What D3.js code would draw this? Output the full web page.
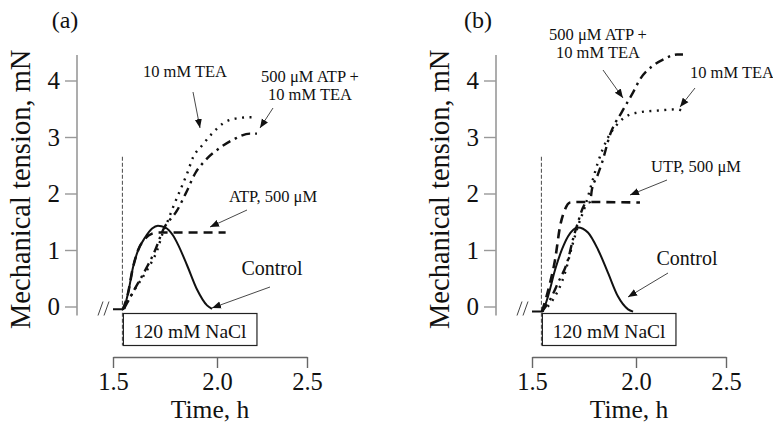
<!DOCTYPE html>
<html>
<head>
<meta charset="utf-8">
<script src="https://cdn.jsdelivr.net/npm/d3@7"></script>
<style>
  body { margin: 0; background: #fff; }
  svg text { font-family: "Liberation Serif", "Tinos", "Times New Roman", "Nimbus Roman", "DejaVu Serif", serif; fill: #111; }
</style>
</head>
<body>
<div id="chart"></div>
<script>
// values: [time h, tension mN]
const xTicks = [1.5, 2.0, 2.5];
const yTicks = [0, 1, 2, 3, 4];

// panel (a)
const controlA = [[1.5,-0.05],[1.548,-0.05],[1.572,0.23],[1.596,0.69],[1.62,0.99],[1.654,1.22],[1.688,1.38],[1.716,1.43],[1.75,1.40],[1.788,1.26],[1.812,1.10],[1.856,0.73],[1.904,0.30],[1.952,0.02],[1.976,-0.04]];
const atpA = [[1.548,-0.05],[1.572,0.23],[1.596,0.69],[1.62,0.99],[1.654,1.20],[1.688,1.29],[1.72,1.31],[2.048,1.31]];
const teaA = [[1.553,-0.04],[1.596,0.25],[1.663,0.64],[1.712,0.99],[1.74,1.31],[1.764,1.52],[1.788,1.75],[1.822,2.05],[1.856,2.35],[1.885,2.64],[1.928,2.85],[1.976,3.06],[2.033,3.24],[2.111,3.33],[2.183,3.35],[2.222,3.35]];
const atpTeaA = [[1.553,-0.04],[1.606,0.32],[1.659,0.67],[1.702,0.99],[1.74,1.35],[1.808,1.70],[1.856,2.05],[1.894,2.35],[1.942,2.58],[2.017,2.81],[2.10,2.97],[2.183,3.06],[2.222,3.06]];

// panel (b)
const controlB = [[1.5,-0.09],[1.548,-0.09],[1.577,0.18],[1.611,0.65],[1.644,1.01],[1.673,1.24],[1.721,1.40],[1.769,1.31],[1.817,1.01],[1.865,0.60],[1.913,0.18],[1.962,-0.05],[1.986,-0.09]];
const utpB = [[1.548,-0.09],[1.587,0.42],[1.611,0.83],[1.635,1.42],[1.659,1.72],[1.683,1.84],[1.721,1.85],[2.022,1.84]];
const teaB = [[1.548,-0.09],[1.601,0.12],[1.659,0.60],[1.692,1.06],[1.721,1.42],[1.755,1.77],[1.788,2.19],[1.817,2.55],[1.861,2.96],[1.909,3.22],[1.971,3.40],[2.006,3.43],[2.133,3.47],[2.228,3.49],[2.261,3.45]];
const atpTeaB = [[1.548,-0.09],[1.587,0.12],[1.625,0.42],[1.673,0.83],[1.697,1.19],[1.721,1.49],[1.745,1.75],[1.76,1.84],[1.779,1.85],[1.788,2.07],[1.813,2.30],[1.837,2.55],[1.875,3.04],[1.933,3.45],[1.986,3.79],[2.022,4.02],[2.089,4.25],[2.15,4.37],[2.228,4.46],[2.261,4.46]];

const naclStart = 1.55;   // NaCl added
const naclEnd = 2.222;

const W = 773, H = 424;
const svg = d3.select("#chart").append("svg")
    .attr("width", W)
    .attr("height", H);

svg.append("defs").append("marker")
    .attr("id", "arrow")
    .attr("viewBox", "0 0 10 10")
    .attr("refX", 10).attr("refY", 5)
    .attr("markerWidth", 9).attr("markerHeight", 9)
    .attr("markerUnits", "userSpaceOnUse")
    .attr("orient", "auto")
    .append("path")
    .attr("d", "M0,1 L10,5 L0,9 z")
    .attr("fill", "#111");

// the time axis of the original is not evenly spaced
const x = d3.scaleLinear().domain([1.5, 2.0, 2.5]).range([113, 217, 307]);
const y = d3.scaleLinear().domain([0, 4]).range([306.5, 80.5]);

const line = d3.line()
    .x(d => x(d[0]))
    .y(d => y(d[1]))
    .curve(d3.curveMonotoneX);

const styles = {
  solid:   { w: 2, dash: null },
  dashed:  { w: 2.6, dash: "9,6" },
  dotted:  { w: 2.4, dash: "2,5.5" },
  dashdot: { w: 2.4, dash: "9,5,2.4,5" }
};

const panels = [
  {
    dx: 0, tag: "(a)", tagX: 65,
    series: [[atpA, "dashed"], [controlA, "solid"], [teaA, "dotted"], [atpTeaA, "dashdot"]],
    notes: [
      { lines: ["10 mM TEA"], x: 185, y: 77, from: [193, 92], to: [200, 128] },
      { lines: ["500 \u03bcM ATP +", "10 mM TEA"], x: 310, y: 82, from: [273, 108], to: [260, 128] },
      { lines: ["ATP, 500 \u03bcM"], x: 273, y: 202, from: [247, 210], to: [210, 227] },
      { lines: ["Control"], x: 272, y: 275, size: 20, from: [270, 287], to: [212, 308] }
    ]
  },
  {
    dx: 419, tag: "(b)", tagX: 59,
    series: [[controlB, "solid"], [utpB, "dashed"], [teaB, "dotted"], [atpTeaB, "dashdot"]],
    notes: [
      { lines: ["500 \u03bcM ATP +", "10 mM TEA"], x: 179, y: 40, from: [184, 70], to: [204, 98] },
      { lines: ["10 mM TEA"], x: 313, y: 78, from: [276, 88], to: [261, 107] },
      { lines: ["UTP, 500 \u03bcM"], x: 277, y: 172, from: [248, 180], to: [211, 195] },
      { lines: ["Control"], x: 268, y: 265, size: 20, from: [249, 273], to: [209, 297] }
    ]
  }
];

panels.forEach(p => {
  const g = svg.append("g").attr("transform", `translate(${p.dx},0)`);

  // y axis
  const yAxis = g.append("g")
      .attr("transform", `translate(${x(1.5) - 36},0)`)
      .call(d3.axisLeft(y).tickValues(yTicks).tickSize(12).tickPadding(5).tickFormat(d3.format("d")));
  yAxis.select(".domain").remove();
  yAxis.append("line")
      .attr("y1", y(4.45)).attr("y2", y(-0.16))
      .attr("stroke", "#999").attr("stroke-width", 1.6);
  yAxis.selectAll(".tick line").attr("stroke", "#999").attr("stroke-width", 1.4);
  yAxis.selectAll(".tick text")
      .attr("font-size", 25)
      .attr("fill", "#111");

  g.append("text")
      .attr("transform", `translate(${x(1.5) - 83},${(y(4.45) + y(-0.16)) / 2 + 4}) rotate(-90)`)
      .attr("text-anchor", "middle")
      .attr("font-size", 28.5)
      .text("Mechanical tension, mN");

  // x axis
  const xAxis = g.append("g")
      .attr("transform", "translate(0,357)")
      .call(d3.axisBottom(x).tickValues(xTicks).tickSize(11).tickSizeOuter(0).tickFormat(d3.format(".1f")));
  xAxis.select(".domain").attr("stroke", "#666").attr("stroke-width", 1.4);
  xAxis.selectAll(".tick line").attr("stroke", "#666").attr("stroke-width", 1.4);
  xAxis.selectAll(".tick text")
      .attr("y", 33).attr("dy", null)
      .attr("font-size", 24.5)
      .attr("fill", "#111");

  g.append("text")
      .attr("x", (x(1.5) + x(2.5)) / 2)
      .attr("y", 418)
      .attr("text-anchor", "middle")
      .attr("font-size", 25.5)
      .text("Time, h");

  g.append("text")
      .attr("x", p.tagX).attr("y", 28)
      .attr("text-anchor", "middle")
      .attr("font-size", 24)
      .text(p.tag);

  // NaCl marker
  g.append("line")
      .attr("x1", x(naclStart) - 1).attr("x2", x(naclStart) - 1)
      .attr("y1", y(2.65)).attr("y2", y(0) + 39)
      .attr("stroke", "#333").attr("stroke-width", 0.9)
      .attr("stroke-dasharray", "4,2");
  g.append("rect")
      .attr("x", x(naclStart)).attr("y", y(0) + 7)
      .attr("width", x(naclEnd) - x(naclStart)).attr("height", 32)
      .attr("fill", "#fff").attr("stroke", "#222").attr("stroke-width", 1.2);
  g.append("text")
      .attr("x", (x(naclStart) + x(naclEnd)) / 2).attr("y", y(0) + 31)
      .attr("text-anchor", "middle")
      .attr("font-size", 19.5)
      .text("120 mM NaCl");

  // axis break
  [0, 6].forEach(o => {
    g.append("line")
        .attr("x1", x(1.5) - 15 + o).attr("y1", y(0) + 9)
        .attr("x2", x(1.5) - 10 + o).attr("y2", y(0) - 5)
        .attr("stroke", "#444").attr("stroke-width", 1);
  });

  // curves
  p.series.forEach(([data, kind]) => {
    const s = styles[kind];
    g.append("path")
        .datum(data)
        .attr("d", line)
        .attr("fill", "none")
        .attr("stroke", "#111")
        .attr("stroke-width", s.w)
        .attr("stroke-dasharray", s.dash);
  });

  // notes with arrows
  p.notes.forEach(n => {
    const t = g.append("text")
        .attr("x", n.x).attr("y", n.y)
        .attr("text-anchor", "middle")
        .attr("font-size", n.size || 16.5);
    n.lines.forEach((l, i) => {
      t.append("tspan").attr("x", n.x).attr("dy", i ? 18 : 0).text(l);
    });
    g.append("line")
        .attr("x1", n.from[0]).attr("y1", n.from[1])
        .attr("x2", n.to[0]).attr("y2", n.to[1])
        .attr("stroke", "#333").attr("stroke-width", 0.9)
        .attr("marker-end", "url(#arrow)");
  });
});
</script>
</body>
</html>
